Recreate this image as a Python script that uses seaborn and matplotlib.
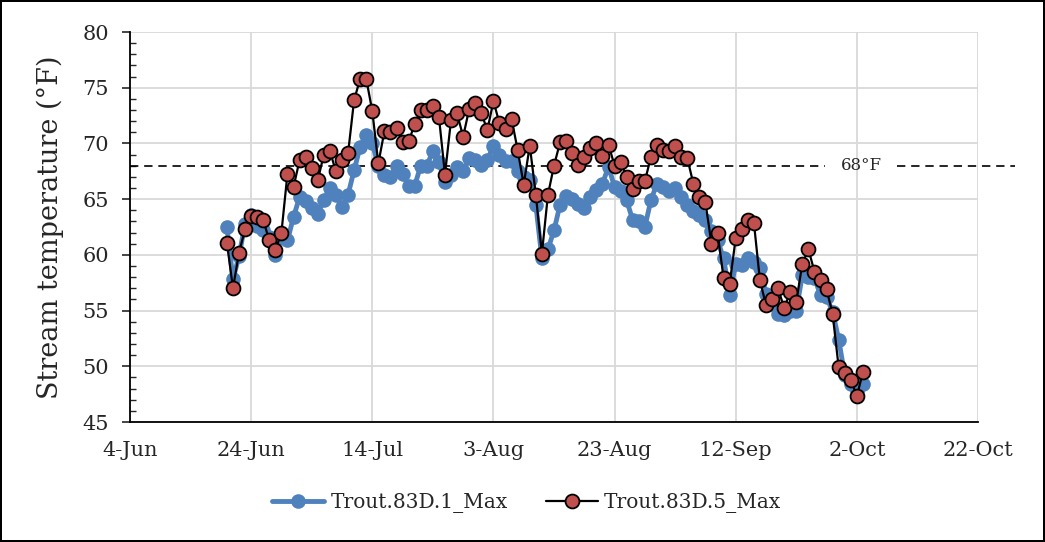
import pandas as pd
import matplotlib
matplotlib.use("Agg")
import matplotlib.pyplot as plt
from matplotlib.ticker import MultipleLocator
import seaborn as sns

##### DATA (daily maxima, 20-Jun to 3-Oct) #####
start_day = "2019-06-20"
trout_1 = [62.5, 57.8, 59.9, 62.8, 63.6, 62.6, 62.2, 61.6, 60.0, 61.6,
           61.3, 63.4, 65.2, 64.8, 64.2, 63.7, 64.9, 66.0, 65.4, 64.3,
           65.4, 67.6, 69.7, 70.8, 70.0, 68.0, 67.2, 67.0, 68.0, 67.3,
           66.2, 66.2, 68.0, 68.0, 69.3, 68.3, 66.5, 67.2, 67.9, 67.5,
           68.7, 68.5, 68.1, 68.5, 69.8, 69.0, 68.4, 68.4, 67.5, 67.0,
           66.7, 64.5, 59.7, 60.5, 62.2, 64.5, 65.3, 65.0, 64.6, 64.2,
           65.2, 65.8, 66.4, 67.9, 66.1, 65.7, 64.9, 63.1, 63.0, 62.5,
           64.9, 66.4, 66.1, 65.7, 66.0, 65.2, 64.5, 63.9, 63.6, 63.1,
           62.1, 61.3, 59.7, 56.4, 59.2, 59.1, 59.7, 59.4, 58.8, 56.5,
           55.6, 54.7, 54.6, 55.0, 55.0, 58.2, 58.0, 57.9, 56.4, 56.2,
           54.9, 52.4, 49.2, 48.4, 47.8, 48.4]
trout_5 = [61.1, 57.0, 60.2, 62.3, 63.5, 63.4, 63.1, 61.3, 60.4, 62.0,
           67.3, 66.1, 68.5, 68.8, 67.8, 66.7, 69.0, 69.3, 67.5, 68.5,
           69.1, 73.9, 75.8, 75.8, 72.9, 68.2, 71.1, 71.0, 71.4, 70.1,
           70.2, 71.7, 73.0, 73.0, 73.4, 72.4, 67.2, 72.1, 72.7, 70.6,
           73.1, 73.6, 72.7, 71.2, 73.8, 71.8, 71.3, 72.2, 69.4, 66.3,
           69.8, 65.4, 60.1, 65.4, 68.0, 70.1, 70.2, 69.1, 68.1, 68.8,
           69.6, 70.0, 68.9, 69.9, 68.0, 68.3, 67.0, 65.9, 66.6, 66.6,
           68.8, 69.9, 69.4, 69.3, 69.8, 68.8, 68.7, 66.4, 65.2, 64.7,
           61.0, 62.0, 57.9, 57.4, 61.5, 62.3, 63.1, 62.9, 57.7, 55.5,
           56.0, 57.0, 55.2, 56.7, 55.8, 59.2, 60.5, 58.5, 57.7, 56.9,
           54.7, 49.9, 49.4, 48.8, 47.3, 49.5]
series_names = ["Trout.83D.1_Max", "Trout.83D.5_Max"]
tick_dates = ["2019-06-04", "2019-06-24", "2019-07-14", "2019-08-03",
              "2019-08-23", "2019-09-12", "2019-10-02", "2019-10-22"]
threshold = 68

dates = pd.date_range(start_day, periods=len(trout_1), freq="D")
df = pd.DataFrame({"date": dates, "t1": trout_1, "t5": trout_5})

##### STYLE #####
sns.set_style("white")
plt.rcParams['font.family'] = ['DejaVu Serif']

fig = plt.figure(figsize=(10.45, 5.42), dpi=100, edgecolor='black', linewidth=1.5)
ax = fig.add_axes([130/1045, 1 - 422/542, 848/1045, 390/542])

##### LINES #####
sns.lineplot(data=df, x="date", y="t1", ax=ax, color='#4F81BD', lw=3.5,
             marker='o', markersize=10.5, markeredgewidth=0, label=series_names[0])
sns.lineplot(data=df, x="date", y="t5", ax=ax, color='black', lw=1.6,
             marker='o', markersize=10, markerfacecolor='#C0504D',
             markeredgecolor='black', markeredgewidth=1.3, label=series_names[1])

# 68F reference line, runs a bit past the plot area like the original
ytr = ax.get_yaxis_transform()
ax.plot([0, 0.82], [threshold, threshold], transform=ytr, color='black',
        lw=1.2, ls=(0, (5, 3.5)), clip_on=False, zorder=1.5)
ax.plot([0.905, 1.044], [threshold, threshold], transform=ytr, color='black',
        lw=1.2, ls=(0, (5, 3.5)), clip_on=False, zorder=1.5)
ax.text(0.863, threshold, "68°F", transform=ytr, ha='center', va='center',
        fontsize=12)

##### AXES #####
tick_dt = pd.to_datetime(tick_dates)
ax.set_xlim(tick_dt[0], tick_dt[-1])
ax.set_xticks(tick_dt)
ax.set_xticklabels([f"{d.day}-{d.strftime('%b')}" for d in tick_dt])
ax.set_ylim(45, 80)
ax.yaxis.set_major_locator(MultipleLocator(5))
ax.yaxis.set_minor_locator(MultipleLocator(1))

ax.grid(True, which='major', color='#D9D9D9', lw=1.3)
ax.set_axisbelow(True)
for s in ['top', 'right']:
    ax.spines[s].set_visible(False)
for s in ['left', 'bottom']:
    ax.spines[s].set_color('black')
    ax.spines[s].set_linewidth(1.3)

ax.tick_params(axis='y', which='major', direction='out', length=6, width=1.2,
               labelsize=15, pad=9, left=True)
ax.tick_params(axis='y', which='minor', direction='in', length=4, width=1, left=True)
ax.tick_params(axis='x', which='major', length=0, labelsize=15, pad=14)

ax.set_xlabel("")
ax.set_ylabel("Stream temperature (°F)", fontsize=19.5, labelpad=13)

ax.legend(loc='center', bbox_to_anchor=(0.504, 0.072), bbox_transform=fig.transFigure,
          ncol=2, frameon=False, fontsize=14.5, handlelength=2.6,
          handletextpad=0.3, columnspacing=1.9)

fig.savefig("out.png", dpi=100, edgecolor=fig.get_edgecolor())
